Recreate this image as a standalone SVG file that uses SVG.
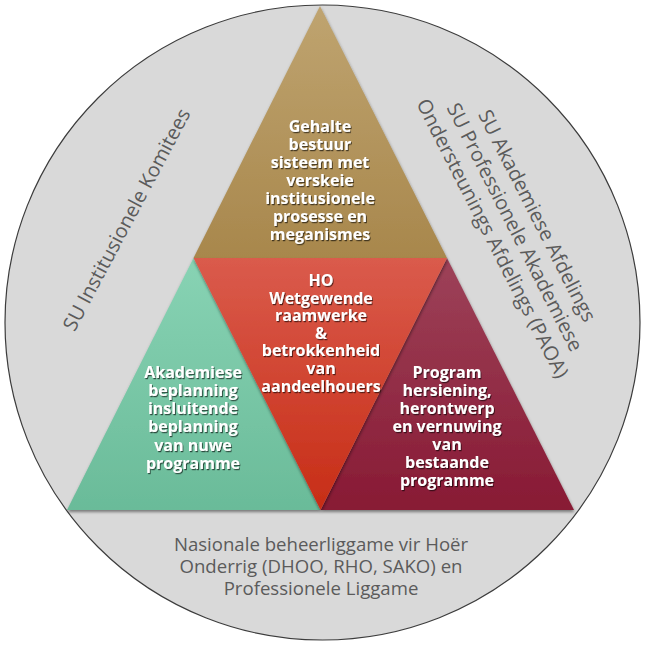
<svg xmlns="http://www.w3.org/2000/svg" width="656" height="652" viewBox="0 0 656 652">
<defs>
<linearGradient id="gTop" x1="0" y1="0" x2="0" y2="1"><stop offset="0" stop-color="#bfa470"/><stop offset="1" stop-color="#a8874c"/></linearGradient>
<linearGradient id="gMid" x1="0" y1="0" x2="0" y2="1"><stop offset="0" stop-color="#da5b4c"/><stop offset="1" stop-color="#c72d16"/></linearGradient>
<linearGradient id="gLeft" x1="0" y1="0" x2="0" y2="1"><stop offset="0" stop-color="#88d3b4"/><stop offset="1" stop-color="#6abb99"/></linearGradient>
<linearGradient id="gRight" x1="0" y1="0" x2="0" y2="1"><stop offset="0" stop-color="#9d4259"/><stop offset="1" stop-color="#881a34"/></linearGradient>
<filter id="shadow" x="-10%" y="-10%" width="120%" height="125%"><feDropShadow dx="0.5" dy="2" stdDeviation="1.5" flood-color="#000" flood-opacity="0.45"/></filter>
<filter id="tshadow" x="-10%" y="-30%" width="120%" height="160%"><feDropShadow dx="1" dy="1.2" stdDeviation="0.7" flood-color="#000" flood-opacity="0.6"/></filter>
</defs>
<style>
.wt{font-family:"Open Sans","Liberation Sans",sans-serif;font-weight:700;font-size:16px;fill:#ffffff;text-anchor:middle}
.gt{font-family:"Open Sans","Liberation Sans",sans-serif;font-weight:400;font-size:18.6px;fill:#5b5b5b;text-anchor:middle}
</style>
<g id="circle">
<circle cx="322.5" cy="322.5" r="317.5" fill="#d9d9d9" stroke="#3c3c3c" stroke-width="1.2"/>
</g>
<g id="connectors"/>
<g id="node-top">
<polygon points="320,6 193.5,258 447,258" fill="url(#gTop)" filter="url(#shadow)"/>
<text class="wt" filter="url(#tshadow)"><tspan x="320" y="131.5">Gehalte</tspan><tspan x="320" y="149.5">bestuur</tspan><tspan x="320" y="167.5">sisteem met</tspan><tspan x="320" y="185.5">verskeie</tspan><tspan x="320" y="203.5">institusionele</tspan><tspan x="320" y="221.5">prosesse en</tspan><tspan x="320" y="239.5">meganismes</tspan></text>
</g>
<g id="node-left">
<polygon points="193.5,258 67,510 320.5,510" fill="url(#gLeft)" filter="url(#shadow)"/>
<text class="wt" filter="url(#tshadow)"><tspan x="193" y="377.5">Akademiese</tspan><tspan x="193" y="395.8">beplanning</tspan><tspan x="193" y="414.1">insluitende</tspan><tspan x="193" y="432.4">beplanning</tspan><tspan x="193" y="450.7">van nuwe</tspan><tspan x="193" y="469">programme</tspan></text>
</g>
<g id="node-right">
<polygon points="447,258 320.5,510 574,510" fill="url(#gRight)" filter="url(#shadow)"/>
<text class="wt" filter="url(#tshadow)"><tspan x="447" y="377.5">Program</tspan><tspan x="447" y="395.5">hersiening,</tspan><tspan x="447" y="413.5">herontwerp</tspan><tspan x="447" y="431.5">en vernuwing</tspan><tspan x="447" y="449.5">van</tspan><tspan x="447" y="467.5">bestaande</tspan><tspan x="447" y="485.5">programme</tspan></text>
</g>
<g id="node-center">
<polygon points="193.5,258 447,258 320.5,510" fill="url(#gMid)" filter="url(#shadow)"/>
<text class="wt" filter="url(#tshadow)"><tspan x="321" y="286">HO</tspan><tspan x="321" y="303.6">Wetgewende</tspan><tspan x="321" y="321.2">raamwerke</tspan><tspan x="321" y="338.8">&amp;</tspan><tspan x="321" y="356.4">betrokkenheid</tspan><tspan x="321" y="374">van</tspan><tspan x="321" y="391.6">aandeelhouers</tspan></text>
</g>
<g id="label-left">
<text class="gt" style="font-size:20px" transform="translate(127.5,220) rotate(-62)" x="0" y="6">SU Institusionele Komitees</text>
</g>
<g id="label-right">
<text class="gt" style="font-size:20px" transform="translate(514,227.5) rotate(63)"><tspan x="0" y="-19">SU Akademiese Afdelings</tspan><tspan x="0" y="6">SU Professionele Akademiese</tspan><tspan x="0" y="31">Ondersteunings Afdelings (PAOA)</tspan></text>
</g>
<g id="label-bottom">
<text class="gt"><tspan x="321" y="551">Nasionale beheerliggame vir Hoër</tspan><tspan x="321" y="573">Onderrig (DHOO, RHO, SAKO) en</tspan><tspan x="321" y="595">Professionele Liggame</tspan></text>
</g>
</svg>
